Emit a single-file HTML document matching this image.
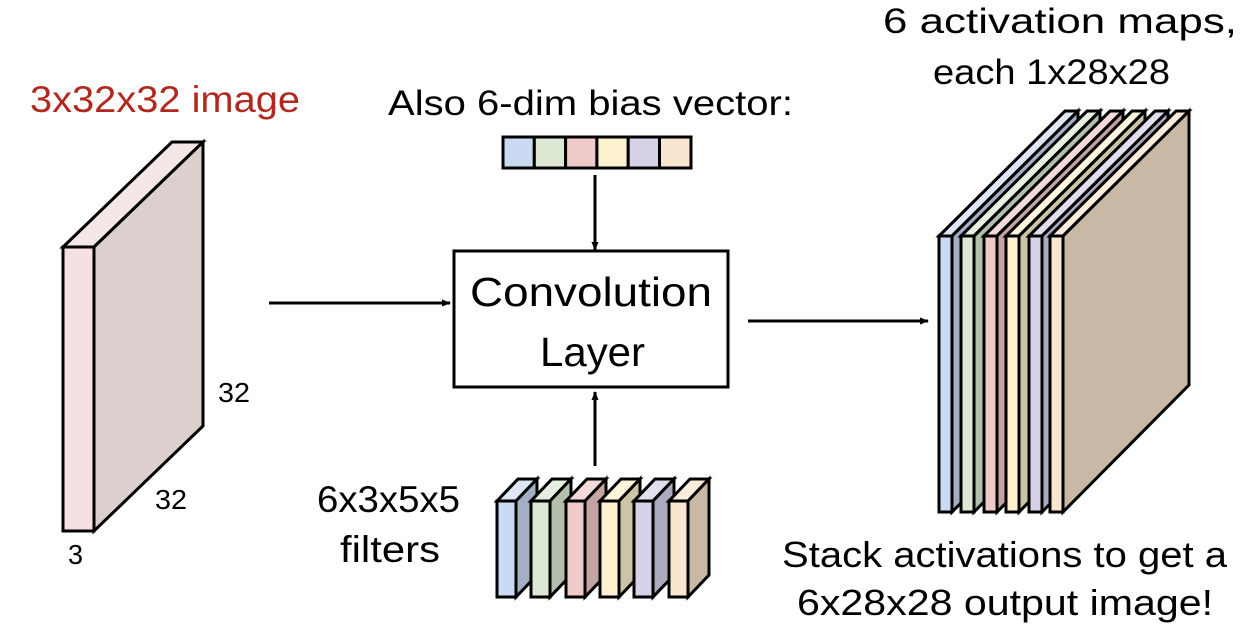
<!DOCTYPE html>
<html><head><meta charset="utf-8"><style>html,body{margin:0;padding:0;background:#fff}svg{display:block}text{font-family:"Liberation Sans",sans-serif;fill:#000}</style></head>
<body>
<svg width="1242" height="632" viewBox="0 0 1242 632" xmlns="http://www.w3.org/2000/svg">
<defs><marker id="ah" markerWidth="9" markerHeight="9" refX="8" refY="4.5" orient="auto" markerUnits="userSpaceOnUse"><path d="M0,1 L9,4.5 L0,8 z" fill="#000"/></marker></defs>
<g stroke="#000" stroke-width="3" stroke-linejoin="miter">
<polygon points="63,247 94,247 203,142 172,142" fill="#f5e7e7"/>
<polygon points="94,247 203,142 203,426 94,531" fill="#dccfcd"/>
<rect x="63" y="247" width="31" height="284" fill="#f5e1e1"/>
</g>
<g stroke="#000" stroke-width="3" fill="none">
<line x1="269" y1="303" x2="450" y2="303" marker-end="url(#ah)"/>
<line x1="748" y1="321" x2="928" y2="321" marker-end="url(#ah)"/>
<line x1="595" y1="175" x2="595" y2="250" marker-end="url(#ah)"/>
<line x1="595" y1="466" x2="595" y2="392" marker-end="url(#ah)"/>
<rect x="454" y="251" width="274" height="136" fill="#fff"/>
</g>
<g stroke="#000" stroke-width="3">
<rect x="503" y="137" width="31.3" height="31" fill="#c9daf2"/>
<rect x="534.3" y="137" width="31.3" height="31" fill="#dce8d4"/>
<rect x="565.6" y="137" width="31.3" height="31" fill="#eecbc9"/>
<rect x="596.9" y="137" width="31.3" height="31" fill="#fdf2d0"/>
<rect x="628.2" y="137" width="31.3" height="31" fill="#d7d2e7"/>
<rect x="659.5" y="137" width="31.5" height="31" fill="#f9e5d0"/>
</g>
<g stroke="#000" stroke-width="3">
<g transform="translate(497,0)"><polygon points="0,501 19,501 40,479 21,479" fill="#dde6f5"/><polygon points="19,501 40,479 40,575 19,597" fill="#a3afc5"/><rect x="0" y="501" width="19" height="96" fill="#c9daf2"/></g>
<g transform="translate(531,0)"><polygon points="0,501 19,501 40,479 21,479" fill="#e7efe2"/><polygon points="19,501 40,479 40,575 19,597" fill="#b1bfac"/><rect x="0" y="501" width="19" height="96" fill="#dce8d4"/></g>
<g transform="translate(566,0)"><polygon points="0,501 19,501 40,479 21,479" fill="#f3dada"/><polygon points="19,501 40,479 40,575 19,597" fill="#c4a3a3"/><rect x="0" y="501" width="19" height="96" fill="#eecbc9"/></g>
<g transform="translate(600,0)"><polygon points="0,501 19,501 40,479 21,479" fill="#fdf5dc"/><polygon points="19,501 40,479 40,575 19,597" fill="#cbc4a6"/><rect x="0" y="501" width="19" height="96" fill="#fdf2d0"/></g>
<g transform="translate(634,0)"><polygon points="0,501 19,501 40,479 21,479" fill="#e2deee"/><polygon points="19,501 40,479 40,575 19,597" fill="#aeaabd"/><rect x="0" y="501" width="19" height="96" fill="#d7d2e7"/></g>
<g transform="translate(669,0)"><polygon points="0,501 19,501 40,479 21,479" fill="#fbecdc"/><polygon points="19,501 40,479 40,575 19,597" fill="#c8b8a5"/><rect x="0" y="501" width="19" height="96" fill="#f9e5d0"/></g>
</g>
<g stroke="#000" stroke-width="3">
<g transform="translate(939,0)"><polygon points="0,236 13,236 139,111 126,111" fill="#dde6f5"/><polygon points="13,236 139,111 139,385 13,512" fill="#a3afc5"/><rect x="0" y="236" width="13" height="276" fill="#c9daf2"/></g>
<g transform="translate(961,0)"><polygon points="0,236 13,236 139,111 126,111" fill="#e7efe2"/><polygon points="13,236 139,111 139,385 13,512" fill="#b1bfac"/><rect x="0" y="236" width="13" height="276" fill="#dce8d4"/></g>
<g transform="translate(984,0)"><polygon points="0,236 13,236 139,111 126,111" fill="#f3dada"/><polygon points="13,236 139,111 139,385 13,512" fill="#c4a3a3"/><rect x="0" y="236" width="13" height="276" fill="#eecbc9"/></g>
<g transform="translate(1006,0)"><polygon points="0,236 13,236 139,111 126,111" fill="#fdf5dc"/><polygon points="13,236 139,111 139,385 13,512" fill="#cbc4a6"/><rect x="0" y="236" width="13" height="276" fill="#fdf2d0"/></g>
<g transform="translate(1029,0)"><polygon points="0,236 13,236 139,111 126,111" fill="#e2deee"/><polygon points="13,236 139,111 139,385 13,512" fill="#aeaabd"/><rect x="0" y="236" width="13" height="276" fill="#d7d2e7"/></g>
<g transform="translate(1050,0)"><polygon points="0,236 13,236 139,111 126,111" fill="#fbecdc"/><polygon points="13,236 139,111 139,385 13,512" fill="#c8b8a5"/><rect x="0" y="236" width="13" height="276" fill="#f9e5d0"/></g>
</g>
<text x="30" y="112" font-size="37" style="fill:#b0281e" textLength="270" lengthAdjust="spacingAndGlyphs">3x32x32 image</text>
<text x="388" y="115" font-size="35" textLength="405" lengthAdjust="spacingAndGlyphs">Also 6-dim bias vector:</text>
<text x="883" y="33" font-size="35" textLength="354" lengthAdjust="spacingAndGlyphs">6 activation maps,</text>
<text x="933" y="84" font-size="35" textLength="237" lengthAdjust="spacingAndGlyphs">each 1x28x28</text>
<text x="470" y="306" font-size="41" textLength="242" lengthAdjust="spacingAndGlyphs">Convolution</text>
<text x="540" y="366" font-size="41" textLength="105" lengthAdjust="spacingAndGlyphs">Layer</text>
<text x="218" y="402" font-size="28" textLength="32" lengthAdjust="spacingAndGlyphs">32</text>
<text x="155" y="509" font-size="28" textLength="32" lengthAdjust="spacingAndGlyphs">32</text>
<text x="68" y="564" font-size="28" textLength="15" lengthAdjust="spacingAndGlyphs">3</text>
<text x="317" y="512" font-size="37" textLength="143" lengthAdjust="spacingAndGlyphs">6x3x5x5</text>
<text x="340" y="562" font-size="37" textLength="100" lengthAdjust="spacingAndGlyphs">filters</text>
<text x="782" y="567" font-size="36" textLength="445" lengthAdjust="spacingAndGlyphs">Stack activations to get a</text>
<text x="797" y="615" font-size="36" textLength="416" lengthAdjust="spacingAndGlyphs">6x28x28 output image!</text>
</svg>
</body></html>
